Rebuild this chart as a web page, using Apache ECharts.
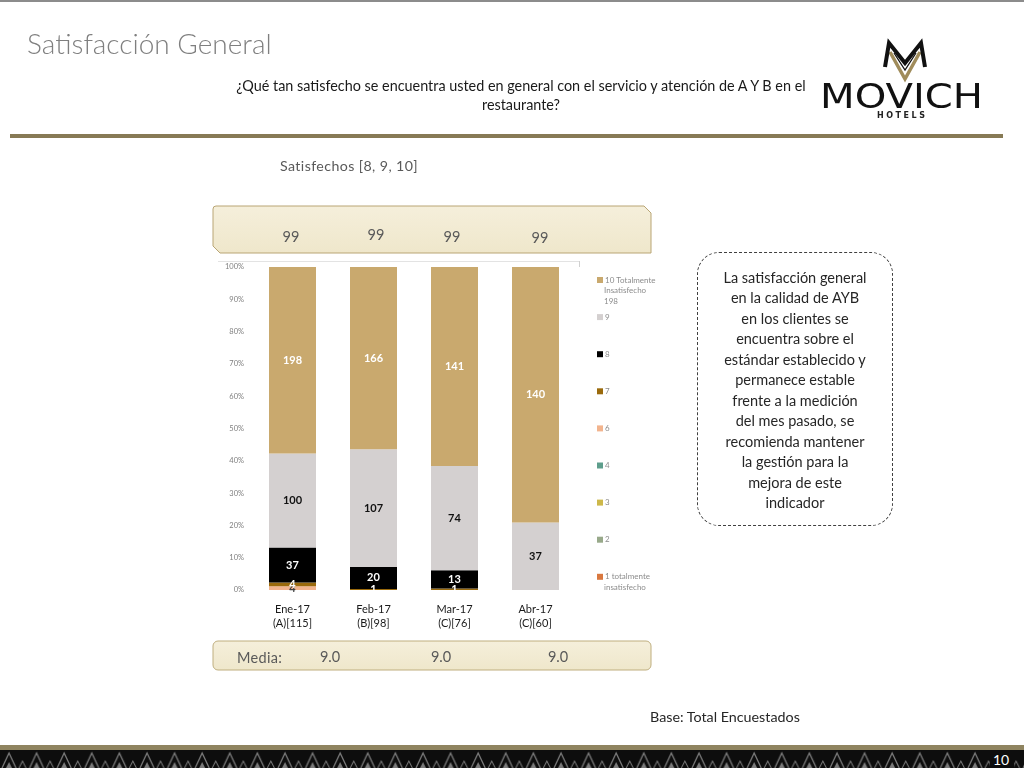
<!DOCTYPE html>
<html>
<head>
<meta charset="utf-8">
<script src="https://cdn.jsdelivr.net/npm/echarts@6/dist/echarts.min.js"></script>
<style>
html,body{margin:0;padding:0;width:1024px;height:768px;overflow:hidden;background:#fff;font-family:Lato,"Noto Sans",sans-serif;}
.abs{position:absolute;}
#chart{position:absolute;left:0;top:0;width:1024px;height:768px;}
</style>
</head>
<body>
<div id="chart"></div>

<div class="abs" style="left:0;top:0;width:1024px;height:2px;background:#8c8c8c"></div>
<div class="abs" style="left:27px;top:26px;font-size:28px;font-weight:300;color:#7f7f7f;white-space:nowrap;line-height:34px">Satisfacción General</div>
<div class="abs" style="left:181px;top:76px;width:680px;text-align:center;font-size:14.4px;line-height:19px;color:#1a1a1a;white-space:nowrap">¿Qué tan satisfecho se encuentra usted en general con el servicio y atención de A Y B en el<br>restaurante?</div>

<!-- logo -->
<svg class="abs" style="left:810px;top:30px" width="190" height="100">
  <polyline points="80,22 95,49 110,22" fill="none" stroke="#A08C5B" stroke-width="3.5" stroke-linejoin="miter"/>
  <polyline points="75,37 79,13 95,33 111,13 115,37" fill="none" stroke="#111" stroke-width="4" stroke-linejoin="miter"/>
  <polyline points="84,23 95,40 106,23" fill="none" stroke="#111" stroke-width="1.3"/>
  <text x="10" y="78" font-family="DejaVu Sans" font-size="34" fill="#111" textLength="163" lengthAdjust="spacingAndGlyphs">MOVICH</text>
  <text x="67" y="88" font-family="DejaVu Sans" font-size="8" font-weight="bold" fill="#222" textLength="48" lengthAdjust="spacing">HOTELS</text>
</svg>

<div class="abs" style="left:10px;top:134px;width:993px;height:4px;background:#877A55"></div>

<div class="abs" style="left:280px;top:157px;font-size:14.2px;letter-spacing:0.4px;color:#595959;white-space:nowrap">Satisfechos [8, 9, 10]</div>

<!-- top box -->
<svg class="abs" style="left:212px;top:205px" width="442" height="50">
  <defs>
    <linearGradient id="g1" x1="0" y1="0" x2="0" y2="1">
      <stop offset="0" stop-color="#F5EFDB"/><stop offset="1" stop-color="#EFE7CB"/>
    </linearGradient>
  </defs>
  <path d="M4,1 H432 L439,8 V48 H8 L1,41 V4 Q1,1 4,1 Z" fill="url(#g1)" stroke="#B9A574" stroke-width="1"/>
</svg>
<div id="topvals"></div>

<div class="abs" style="left:218px;top:261px;width:362px;height:1px;background:#e3e3e3"></div>
<div class="abs" style="left:579px;top:261px;width:1px;height:6px;background:#d0d0d0"></div>

<!-- media box -->
<svg class="abs" style="left:212px;top:640px" width="442" height="32">
  <rect x="1" y="1" width="438" height="29" rx="5" ry="5" fill="url(#g1)" stroke="#BFAE7F" stroke-width="1"/>
</svg>
<div class="abs" style="left:237px;top:649px;font-size:14.5px;letter-spacing:0.3px;color:#595959;line-height:18px">Media:</div>
<div id="mediavals"></div>

<!-- callout -->
<div class="abs" style="left:697px;top:252px;width:194px;height:272px;border:1px dashed #404040;border-radius:22px;box-sizing:content-box"></div>
<div class="abs" style="left:697px;top:268px;width:196px;text-align:center;font-size:14.5px;line-height:20.45px;color:#262626">La satisfacción general<br>en la calidad de AYB<br>en los clientes se<br>encuentra sobre el<br>estándar establecido y<br>permanece estable<br>frente a la medición<br>del mes pasado, se<br>recomienda mantener<br>la gestión para la<br>mejora de este<br>indicador</div>

<div class="abs" style="left:650px;top:708px;font-size:14.3px;color:#262626;white-space:nowrap;line-height:18px">Base: Total Encuestados</div>

<!-- bottom band -->
<svg class="abs" style="left:0;top:745px" width="1024" height="23">
  <defs>
    <pattern id="tri" width="27.6" height="18" patternUnits="userSpaceOnUse" x="0" y="5">
      <path d="M2,18 L9,3 L16,18" fill="none" stroke="#7a7a7a" stroke-width="1.3"/>
      <path d="M6,18 L9,12 L12,18" fill="#7a7a7a"/>
      <path d="M19,18 L22.5,11 L26,18" fill="none" stroke="#7a7a7a" stroke-width="1"/>
    </pattern>
  </defs>
  <rect x="0" y="0" width="1024" height="5" fill="#8f8460"/>
  <rect x="0" y="5" width="1024" height="18" fill="#0d0d0d"/>
  <rect x="0" y="5" width="1024" height="18" fill="url(#tri)"/>
  <rect x="990" y="5" width="24" height="18" fill="#0d0d0d"/>
  <text x="1001" y="20" fill="#fff" font-size="14" text-anchor="middle" font-family="Lato">10</text>
</svg>

<script>
// ---- data ----
const categories = ['Ene-17\n(A)[115]', 'Feb-17\n(B)[98]', 'Mar-17\n(C)[76]', 'Abr-17\n(C)[60]'];
const levelNames = ['1 totalmente\ninsatisfecho', '2', '3', '4', '6', '7', '8', '9', '10 Totalmente\nInsatisfecho\n198'];
const n1  = [0, 0, 0, 0];
const n2  = [0, 0, 0, 0];
const n3  = [0, 0, 0, 0];
const n4  = [0, 0, 0, 0];
const n6  = [4, 0, 0, 0];
const n7  = [4, 1, 1, 0];
const n8  = [37, 20, 13, 0];
const n9  = [100, 107, 74, 37];
const n10 = [198, 166, 141, 140];
const satisfechos = ['99', '99', '99', '99'];
const media = ['9.0', '9.0', '9.0'];
const yTicks = [0, 10, 20, 30, 40, 50, 60, 70, 80, 90, 100];

// ---- styles / layout ----
const colors = ['#D9783F', '#98A98A', '#CDB84A', '#5E9E8C', '#F2B48E', '#9A6A0C', '#000000', '#D4D0D0', '#C9A96E'];
const labelColors = ['#fff', '#fff', '#fff', '#fff', '#404040', '#fff', '#fff', '#111', '#fff'];
const topX = [291, 376, 452, 540];
const topY = [237, 235, 237, 238];
const mediaX = [330, 441, 558];

const counts = [n1, n2, n3, n4, n6, n7, n8, n9, n10];
const totals = categories.map((c, j) => counts.reduce((s, arr) => s + arr[j], 0));

let html = '';
satisfechos.forEach((v, i) => {
  html += '<div class="abs" style="left:' + (topX[i] - 20) + 'px;top:' + (topY[i] - 10) + 'px;width:40px;text-align:center;font-size:14.5px;line-height:20px;color:#595959">' + v + '</div>';
});
document.getElementById('topvals').innerHTML = html;
html = '';
media.forEach((v, i) => {
  html += '<div class="abs" style="left:' + (mediaX[i] - 20) + 'px;top:647px;width:40px;text-align:center;font-size:14.5px;line-height:20px;color:#595959">' + v + '</div>';
});
document.getElementById('mediavals').innerHTML = html;

const series = levelNames.map((name, i) => ({
  name: name,
  type: 'bar',
  stack: 'total',
  barWidth: 47,
  itemStyle: { color: colors[i] },
  data: counts[i].map((v, j) => totals[j] ? v / totals[j] * 100 : 0),
  label: {
    show: true,
    position: 'inside',
    color: labelColors[i],
    fontSize: 11,
    fontWeight: 'bold',
    fontFamily: 'Lato',
    formatter: p => counts[i][p.dataIndex] > 0 ? String(counts[i][p.dataIndex]) : ''
  }
}));

const legendOrder = levelNames.slice().reverse();
const extraGraphics = [];
const firstExtra = legendOrder[0].split('\n').slice(1);
firstExtra.forEach((t, k) => extraGraphics.push({ type: 'text', left: 604, top: 286 + k * 11, style: { text: t, fontSize: 8, fill: '#8c8c8c', fontFamily: 'Lato' } }));
const lastExtra = legendOrder[legendOrder.length - 1].split('\n').slice(1);
lastExtra.forEach((t, k) => extraGraphics.push({ type: 'text', left: 604, top: 583 + k * 11, style: { text: t, fontSize: 8, fill: '#8c8c8c', fontFamily: 'Lato' } }));

const chart = echarts.init(document.getElementById('chart'), null, { renderer: 'canvas' });
chart.setOption({
  animation: false,
  backgroundColor: 'transparent',
  grid: { left: 252, right: 448, top: 267, bottom: 178, containLabel: false },
  xAxis: {
    type: 'category',
    data: categories,
    axisLine: { show: false },
    axisTick: { show: false },
    axisLabel: { fontSize: 11, color: '#1a1a1a', lineHeight: 14, margin: 12, fontFamily: 'Lato', interval: 0 }
  },
  yAxis: {
    type: 'value',
    min: yTicks[0],
    max: yTicks[yTicks.length - 1],
    interval: 10,
    axisLine: { show: false },
    axisTick: { show: false },
    splitLine: { show: false },
    axisLabel: { fontSize: 7.5, color: '#7f7f7f', formatter: '{value}%', margin: 8, fontFamily: 'Lato' }
  },
  legend: {
    orient: 'vertical',
    left: 597,
    top: 275,
    padding: 0,
    itemWidth: 6,
    itemHeight: 6,
    itemGap: 27.1,
    icon: 'rect',
    data: legendOrder,
    formatter: name => name.split('\n')[0],
    textStyle: { fontSize: 8, color: '#8c8c8c', lineHeight: 10, fontFamily: 'Lato', padding: [0, 0, 0, -3] },
    selectedMode: false
  },
  graphic: extraGraphics,
  series: series
});
</script>
</body>
</html>
